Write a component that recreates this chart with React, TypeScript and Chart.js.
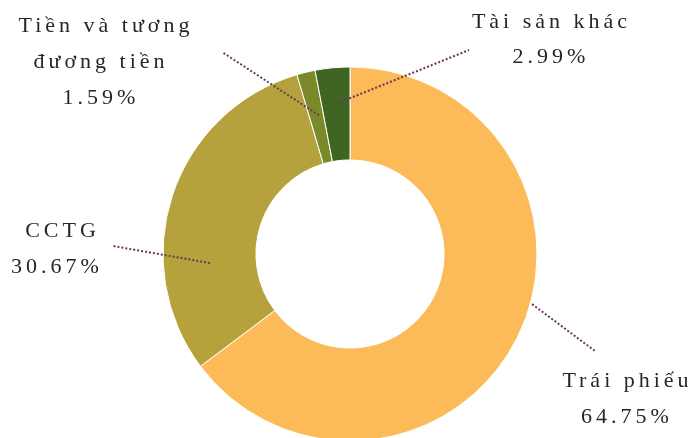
import React, { useEffect, useRef } from 'react';
import { Chart, registerables } from 'chart.js';

Chart.register(...registerables);

// ---- data ----
const categories = ['Trái phiếu', 'CCTG', 'Tiền và tương đương tiền', 'Tài sản khác'];
const categoryLines = [['Trái phiếu'], ['CCTG'], ['Tiền và tương', 'đương tiền'], ['Tài sản khác']];
const shares = [64.75, 30.67, 1.59, 2.99];
const sliceColors = ['#FDBA59', '#B6A23C', '#7A8A2B', '#3E6521'];

// ---- label layout (annotation placement, not data) ----
const labelLayout = [
  { start: { deg: 105.4, r: 1.01 }, end: [595, 351], lines: [[625.5, 387], [625, 423]] },
  { start: { deg: 266.3, r: 0.75 }, end: [113, 246], lines: [[60.5, 237], [55, 273]] },
  { start: { deg: 347.4, r: 0.76 }, end: [222, 52], lines: [[104, 32], [99, 68], [99, 104]] },
  { start: { deg: 355.5, r: 0.81 }, end: [469, 50], lines: [[549.5, 28], [549, 63]] },
];

const leaderPlugin = {
  id: 'leaderLabels',
  afterDatasetsDraw(chart: any) {
    const ctx = chart.ctx as CanvasRenderingContext2D;
    const meta = chart.getDatasetMeta(0);
    ctx.save();
    meta.data.forEach((arc: any, i: number) => {
      const cfg = labelLayout[i];
      if (!cfg) return;
      const { x, y, outerRadius } = arc.getProps(['x', 'y', 'outerRadius'], true);
      const a = (cfg.start.deg * Math.PI) / 180;
      const sx = x + cfg.start.r * outerRadius * Math.sin(a);
      const sy = y - cfg.start.r * outerRadius * Math.cos(a);
      ctx.beginPath();
      ctx.strokeStyle = '#6A3C52';
      ctx.lineWidth = 2;
      ctx.setLineDash([2, 2]);
      ctx.moveTo(sx, sy);
      ctx.lineTo(cfg.end[0], cfg.end[1]);
      ctx.stroke();
      ctx.setLineDash([]);

      const texts = [...categoryLines[i], `${shares[i].toFixed(2)}%`];
      ctx.font = '22px "Liberation Serif", "Times New Roman", serif';
      (ctx as any).letterSpacing = '4px';
      ctx.fillStyle = '#262626';
      ctx.textAlign = 'center';
      ctx.textBaseline = 'alphabetic';
      texts.forEach((t, j) => {
        const p = cfg.lines[j];
        if (!p) return;
        ctx.fillText(t, p[0] + 2, p[1]);
      });
    });
    ctx.restore();
  },
};

export default function App() {
  const ref = useRef<HTMLCanvasElement>(null);
  useEffect(() => {
    if (!ref.current) return;
    const chart = new Chart(ref.current, {
      type: 'doughnut',
      data: {
        labels: categories,
        datasets: [
          {
            data: shares,
            backgroundColor: sliceColors,
            borderColor: '#FFFFFF',
            borderWidth: 1,
            clip: false as any,
          },
        ],
      },
      options: {
        responsive: false,
        maintainAspectRatio: false,
        animation: false,
        radius: 187,
        cutout: '50.3%',
        rotation: 0,
        layout: { padding: { left: 163, right: 155, top: 67, bottom: 19 } },
        plugins: {
          legend: { display: false },
          tooltip: { enabled: false },
        },
      } as any,
      plugins: [leaderPlugin],
    });
    return () => chart.destroy();
  }, []);
  return (
    <div
      style={{
        position: 'fixed',
        left: 0,
        top: 0,
        width: 692,
        height: 438,
        overflow: 'hidden',
        background: '#FFFFFF',
      }}
    >
      <canvas ref={ref} width={692} height={460} style={{ width: 692, height: 460, display: 'block' }} />
    </div>
  );
}
